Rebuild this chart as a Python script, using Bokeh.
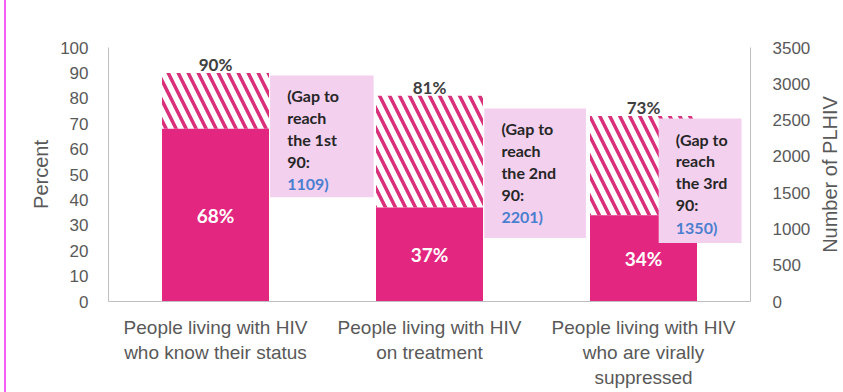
import math
from bokeh.plotting import figure
from bokeh.layouts import row
from bokeh.models import Range1d, LinearAxis, FixedTicker
from bokeh.core.properties import value
from bokeh.embed import file_html
from bokeh.resources import INLINE

# ---- data ----
categories = [
    "People living with HIV\nwho know their status",
    "People living with HIV\non treatment",
    "People living with HIV\nwho are virally\nsuppressed",
]
achieved = [68, 37, 34]          # solid bars (%)
cascade = [90, 81, 73]           # hatched bar tops (%)
gap_numbers = [1109, 2201, 1350]
gap_ordinals = ["1st", "2nd", "3rd"]
# callout boxes (offsets from category centre, in category units; y in %)
box_left = [0.255, 0.256, 0.071]
box_right = [0.739, 0.731, 0.458]
box_top = [89, 76, 72]
box_bottom = [41, 25, 23]
left_ticks = list(range(0, 101, 10))
right_ticks = list(range(0, 3501, 500))
right_title = "Number of PLHIV"

PINK = "#e3267f"
HATCH = "#d8307a"
BOX = "#f3d0ee"
GRAY_TXT = "#595959"
AXIS = "#bfbfbf"

centers = [i + 0.5 for i in range(len(categories))]
bl = [c + o for c, o in zip(centers, box_left)]
br = [c + o for c, o in zip(centers, box_right)]

yr = Range1d(0, 100)
p = figure(width=807, height=392, x_range=Range1d(0, 3), y_range=yr,
           output_backend="svg", toolbar_location=None,
           min_border_left=102, min_border_right=61, min_border_top=47, min_border_bottom=91)
p.styles = {"border-left": "2px solid #f45ef4", "margin-left": "4px"}
p.outline_line_color = None
p.xgrid.visible = False
p.ygrid.visible = False
p.extra_y_ranges = {"num": Range1d(0, 3500)}

# hatched part (gap up to cascade value)
p.vbar(x=centers, bottom=achieved, top=cascade, width=0.5, fill_color="white",
       line_color=None, hatch_pattern="\\", hatch_color=HATCH, hatch_weight=3.5, hatch_scale=20)
# solid part
p.vbar(x=centers, bottom=0, top=achieved, width=0.5, fill_color=PINK, line_color=None)
# callout boxes
p.quad(left=bl, right=br, top=box_top, bottom=box_bottom, fill_color=BOX, line_color=None)

# labels on top of bars
p.text(x=centers, y=cascade, text=[f"{v}%" for v in cascade], text_align="center",
       text_baseline="bottom", y_offset=2, text_font=value("Lato"), text_font_style="bold",
       text_font_size="17px", text_color="#404040")
# labels inside solid bars
p.text(x=centers, y=[a / 2 for a in achieved], text=[f"{v}%" for v in achieved],
       text_align="center", text_baseline="middle", text_font=value("Lato"),
       text_font_style="bold", text_font_size="19px", text_color="white")

# callout text
gap_txt = [f"(Gap to\nreach\nthe {o}\n90:" for o in gap_ordinals]
tx = [l + 0.08 for l in bl]
p.text(x=tx, y=box_top, text=gap_txt, text_align="left", text_baseline="top", y_offset=11,
       text_font=value("Lato"), text_font_style="bold", text_font_size="16px",
       text_color="#262626", text_line_height=1.15)
p.text(x=tx, y=box_top, text=[f"{n})" for n in gap_numbers], text_align="left",
       text_baseline="top", y_offset=11 + 4 * 22, text_font=value("Lato"),
       text_font_style="bold", text_font_size="16px", text_color="#4a7fd0")

# axes
for ax in [p.xaxis[0], p.yaxis[0]]:
    ax.axis_line_color = AXIS
    ax.major_tick_line_color = None
    ax.minor_tick_line_color = None
    ax.major_label_text_color = GRAY_TXT
    ax.major_label_text_font = "Liberation Sans"

p.xaxis.ticker = FixedTicker(ticks=centers)
p.xaxis.major_label_overrides = {c: lab for c, lab in zip(centers, categories)}
p.xaxis.major_label_text_font_size = "19px"
p.xaxis.major_label_standoff = 9

p.yaxis.ticker = FixedTicker(ticks=left_ticks)
p.yaxis.major_label_text_font_size = "17px"
p.yaxis.major_label_standoff = 14
p.yaxis.axis_label = "Percent"
p.yaxis.axis_label_text_font = "Liberation Sans"
p.yaxis.axis_label_text_font_style = "normal"
p.yaxis.axis_label_text_font_size = "20px"
p.yaxis.axis_label_text_color = GRAY_TXT
p.yaxis.axis_label_standoff = 5

ra = LinearAxis(y_range_name="num", ticker=FixedTicker(ticks=right_ticks))
ra.axis_line_color = AXIS
ra.major_tick_line_color = None
ra.minor_tick_line_color = None
ra.major_label_text_color = GRAY_TXT
ra.major_label_text_font = "Liberation Sans"
ra.major_label_text_font_size = "17px"
ra.major_label_standoff = 16
p.add_layout(ra, "right")

# narrow strip holding the right axis title (reads bottom-to-top)
q = figure(width=30, height=392, x_range=Range1d(0, 1), y_range=yr,
           output_backend="svg", toolbar_location=None,
           min_border_left=0, min_border_right=0, min_border_top=47, min_border_bottom=91)
q.axis.visible = False
q.grid.visible = False
q.outline_line_color = None
q.text(x=[0.6], y=[(yr.start + yr.end) / 2], text=[right_title], angle=math.pi / 2,
       text_align="center", text_baseline="middle", text_font=value("Liberation Sans"),
       text_font_size="20px", text_color=GRAY_TXT)

layout = row(p, q, spacing=0)
open("out.html", "w").write(file_html(layout, INLINE))
